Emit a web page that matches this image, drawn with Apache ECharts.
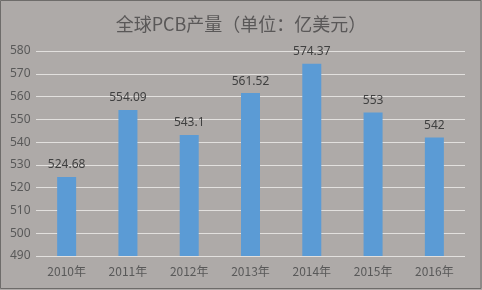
<!DOCTYPE html>
<html>
<head>
<meta charset="utf-8">
<script src="https://cdn.jsdelivr.net/npm/echarts@6/dist/echarts.min.js"></script>
<style>
html,body{margin:0;padding:0;background:#aeaaa8;}
#c{width:482px;height:290px;}
</style>
</head>
<body>
<div id="c"></div>
<script>
const titleText = '全球PCB产量（单位：亿美元）';
const categories = ['2010年','2011年','2012年','2013年','2014年','2015年','2016年'];
const values = [524.68, 554.09, 543.1, 561.52, 574.37, 553, 542];
const yMin = 490, yMax = 580, yStep = 10;

const chart = echarts.init(document.getElementById('c'));
chart.setOption({
  backgroundColor: '#aeaaa8',
  animation: false,
  title: {
    text: titleText,
    left: 'center',
    top: 10,
    textStyle: { fontFamily: 'Noto Sans CJK SC', fontSize: 18, fontWeight: 'normal', color: '#5a5858' }
  },
  grid: { left: 36, right: 17, top: 51, bottom: 34 },
  xAxis: {
    type: 'category',
    data: categories,
    axisLine: { show: false },
    axisTick: { show: false },
    axisLabel: { color: '#595959', fontSize: 12, fontFamily: 'Noto Sans CJK SC', margin: 9 }
  },
  yAxis: {
    type: 'value',
    min: yMin, max: yMax, interval: yStep,
    axisLine: { show: false },
    axisTick: { show: false },
    axisLabel: { color: '#595959', fontSize: 12, fontFamily: 'Noto Sans', margin: 26, align: 'left' },
    splitLine: { lineStyle: { color: '#e2e0de', width: 1 } }
  },
  series: [{
    type: 'bar',
    data: values,
    barWidth: 19,
    itemStyle: { color: '#5b9bd5' },
    label: { show: true, position: 'top', distance: 6, color: '#404040', fontSize: 12, fontFamily: 'Noto Sans' }
  }],
  graphic: [{
    type: 'rect',
    shape: { x: 0.5, y: 0.5, width: 480.5, height: 288 },
    style: { fill: 'none', stroke: '#6e6c6a', lineWidth: 1 }
  }]
});
</script>
</body>
</html>
